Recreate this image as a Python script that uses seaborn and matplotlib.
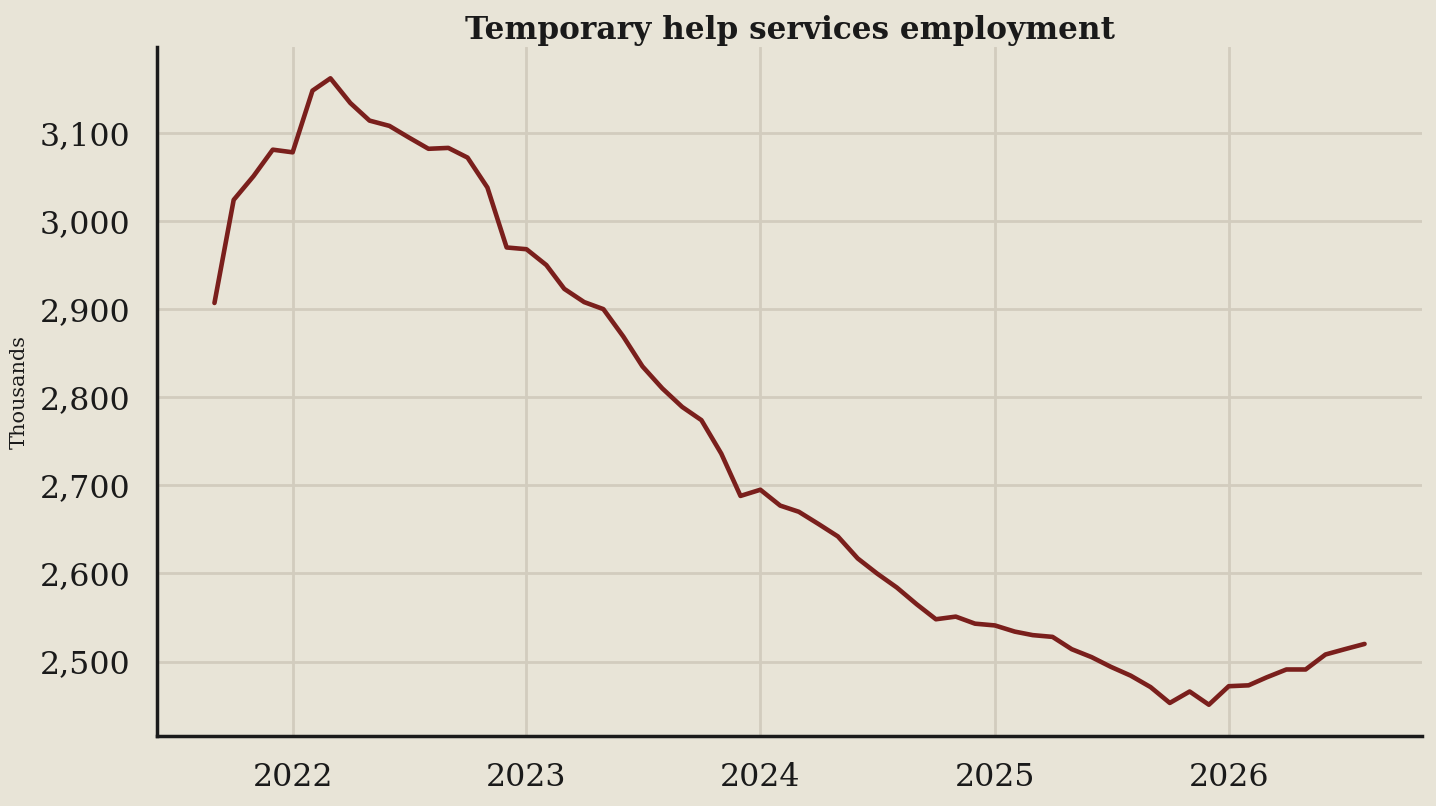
import pandas as pd
import matplotlib
matplotlib.use("Agg")
import matplotlib.pyplot as plt
import matplotlib.dates as mdates
import matplotlib.ticker as mticker
import seaborn as sns

# monthly values, Sep 2021 .. Aug 2026 (thousands)
months = pd.date_range("2021-09-01", "2026-08-01", freq="MS")
employment = [
    2907, 3024, 3051, 3081, 3078, 3148, 3162, 3134, 3114, 3108, 3095, 3082,
    3083, 3072, 3038, 2970, 2968, 2950, 2923, 2908, 2900, 2869, 2835, 2810,
    2789, 2774, 2736, 2688, 2695, 2677, 2670, 2656, 2642, 2617, 2600, 2584,
    2565, 2548, 2551, 2543, 2541, 2534, 2530, 2528, 2514, 2505, 2494, 2484,
    2471, 2453, 2466, 2451, 2472, 2473, 2482, 2491, 2491, 2508, 2514, 2520,
]
df = pd.DataFrame({"date": months, "value": employment})

bg = "#e8e4d7"
sns.set_theme(style="whitegrid")
plt.rcParams["font.family"] = ["DejaVu Serif", "DejaVu Sans"]

fig = plt.figure(figsize=(14.36, 8.06), dpi=100, facecolor=bg)
ax = fig.add_axes([0.1093, 0.0868, 0.8810, 0.8549])
ax.set_facecolor(bg)

sns.lineplot(data=df, x="date", y="value", ax=ax, color="#7a1f1c", linewidth=3.3)

ax.xaxis.set_major_locator(mdates.YearLocator())
ax.xaxis.set_major_formatter(mdates.DateFormatter("%Y"))
ax.yaxis.set_major_locator(mticker.MultipleLocator(100))
ax.yaxis.set_major_formatter(mticker.FuncFormatter(lambda v, p: f"{int(v):,}"))

ax.grid(True, color="#d2ccbe", linewidth=2)
for s in ["top", "right"]:
    ax.spines[s].set_visible(False)
for s in ["left", "bottom"]:
    ax.spines[s].set_color("#1a1a1a")
    ax.spines[s].set_linewidth(2.5)
ax.tick_params(length=0, labelsize=22.8, colors="#1a1a1a", pad=19)

ax.set_xlabel("")
ax.set_ylabel("Thousands", fontsize=15, color="#1a1a1a", labelpad=8)
ax.set_title("Temporary help services employment", fontsize=22.4,
             fontweight="bold", color="#1a1a1a", pad=6)

fig.savefig("out.png", dpi=100, facecolor=bg)
